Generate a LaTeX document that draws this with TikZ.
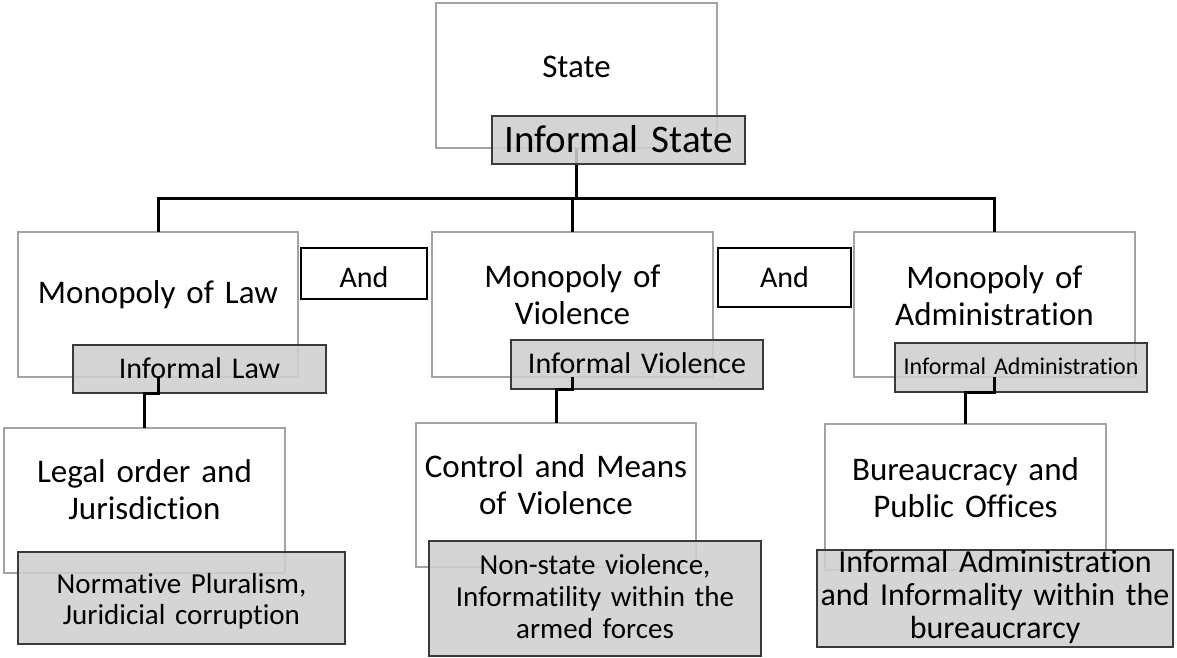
\documentclass[tikz,border=0pt]{standalone}
\usepackage{fontspec}
\setmainfont[Ligatures=NoCommon]{Carlito}
\definecolor{boxgray}{HTML}{A3A3A3}
\definecolor{greyfill}{HTML}{CFCFCF}
\definecolor{greyline}{HTML}{3A3A3A}
\tikzset{
    white box/.style={draw=boxgray,line width=1.5pt,fill=white,align=center,inner sep=0pt,outer sep=0pt,anchor=north west,font=\fontsize{33}{37}\selectfont},
    grey box/.style={draw=greyline,line width=1.5pt,fill=greyfill,fill opacity=0.88,draw opacity=1,text opacity=1,align=center,inner sep=0pt,outer sep=0pt,anchor=north west},
    and box/.style={draw=black,line width=1.3pt,fill=white,align=center,inner sep=0pt,outer sep=0pt,anchor=north west,font=\fontsize{30}{34}\selectfont},
    link/.style={draw=black,line width=3pt},
}
\begin{document}
\begin{tikzpicture}[x=1pt,y=-1pt]
\useasboundingbox (0,0) rectangle (1177,657);
\node[white box,text width=281pt,text height=74pt,text depth=71pt] (state) at (436,3) {State};
\node[white box,text width=280pt,text height=71pt,text depth=74pt] (mlaw) at (18,232) {Monopoly of Law};
\node[white box,text width=281pt,text height=55pt,text depth=90pt] (mviol) at (432,232) {Monopoly of\\Violence};
\node[white box,text width=281pt,text height=56pt,text depth=89pt] (madmin) at (854,232) {Monopoly of\\Administration};
\node[white box,text width=281pt,text height=54pt,text depth=91pt] (legal) at (4,428) {Legal order and\\Jurisdiction};
\node[white box,text width=280pt,text height=54pt,text depth=90pt] (control) at (416,423) {Control and Means\\of Violence};
\node[white box,text width=281pt,text height=56pt,text depth=90pt] (bureau) at (825,424) {Bureaucracy and\\Public Offices};
\coordinate (bus) at (0,198);
\draw[link] (state.south) -- (state.south |- bus);
\draw[link] (mlaw.north) -- (mlaw.north |- bus) -- (madmin.north |- bus) -- (madmin.north);
\draw[link] (mviol.north |- bus) -- (mviol.north);
\node[grey box,text width=253pt,text height=36pt,text depth=12pt,font=\fontsize{39}{44}\selectfont] (istate) at (492,116) {Informal State};
\node[grey box,text width=253pt,text height=33pt,text depth=15pt,font=\fontsize{30}{34}\selectfont] (ilaw) at (73,345) {Informal Law};
\node[grey box,text width=252pt,text height=33pt,text depth=16pt,font=\fontsize{30}{34}\selectfont] (iviol) at (511,340) {Informal Violence};
\node[grey box,text width=252pt,text height=31pt,text depth=18pt,font=\fontsize{24}{28}\selectfont] (iadmin) at (895,343) {Informal Administration};
\draw[link] (mlaw.south) -- (mlaw.south |- ilaw.south) -| (legal.north);
\draw[link] (mviol.south) -- (mviol.south |- iviol.south) -| (control.north);
\draw[link] (madmin.south) -- (madmin.south |- iadmin.south) -| (bureau.north);
\node[grey box,text width=327pt,text height=41pt,text depth=51pt,font=\fontsize{29}{31.5}\selectfont] (norm) at (18,552) {Normative Pluralism,\\Juridicial corruption};
\node[grey box,text width=332pt,text height=33pt,text depth=82pt,font=\fontsize{29}{32}\selectfont] (nonstate) at (429,541) {Non-state violence,\\Informatility within the\\armed forces};
\node[grey box,text width=356pt,text height=22pt,text depth=75pt,font=\fontsize{32}{33}\selectfont] (ibureau) at (817,550) {Informal Administration\\and Informality within the\\bureaucrarcy};
\node[and box,text width=126pt,text height=39pt,text depth=12pt] (and1) at (301,248) {And};
\node[and box,text width=133pt,text height=39pt,text depth=20pt] (and2) at (718,248) {And};
\end{tikzpicture}
\end{document}
